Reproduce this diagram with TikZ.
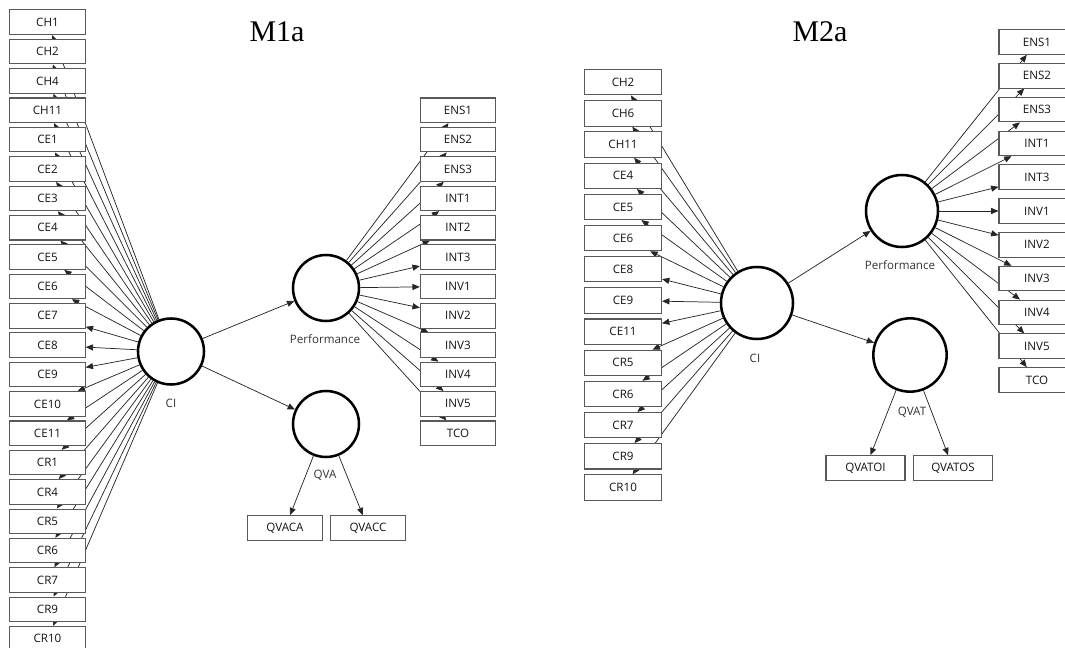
\documentclass[tikz,border=0pt]{standalone}
\usepackage{fontspec}
\setmainfont{Open Sans}
\newfontfamily\titlefont{Liberation Serif}
\usetikzlibrary{arrows.meta}
\pgfdeclarelayer{edges}
\pgfsetlayers{edges,main}
\begin{document}
\begin{tikzpicture}[x=0.75pt,y=-0.75pt,
  ind/.style={draw=black!65, line width=0.8pt, fill=white,
    minimum width=56.5pt, minimum height=18.4pt, inner sep=0pt, outer sep=0.4pt,
    font=\fontsize{8.7}{10}\selectfont, text=black!92},
  lv/.style={circle, draw=black, line width=1.9pt, fill=white,
    inner sep=0pt, outer sep=0.95pt},
  lab/.style={font=\fontsize{8.7}{10}\selectfont, text=black!80},
  link/.style={draw=black!85, line width=0.55pt,
    -{Triangle[length=5.5pt,width=4.6pt]}},
  ttl/.style={font=\titlefont\fontsize{22.5}{26}\selectfont}]
\useasboundingbox (0,0) rectangle (1065,648);

% ---------------- model M1a ----------------
\node[ttl] (t1) at (277,32) {M1a};
\foreach \n [count=\i from 0] in {CH1,CH2,CH4,CH11,CE1,CE2,CE3,CE4,CE5,CE6,CE7,CE8,CE9,CE10,CE11,CR1,CR4,CR5,CR6,CR7,CR9,CR10}
  \node[ind] (a\n) at (47.5,{22.2+29.36*\i}) {\n};
\foreach \n [count=\i from 3] in {ENS1,ENS2,ENS3,INT1,INT2,INT3,INV1,INV2,INV3,INV4,INV5,TCO}
  \node[ind] (aP\n) at (458,{22.2+29.36*\i}) {\n};
\node[lv, minimum size=49.5pt] (aCI) at (171,351.5) {};
\node[lab] (aCIl) at (171,403) {CI};
\node[lv, minimum size=49.5pt] (aPerf) at (326,288) {};
\node[lab] (aPerfl) at (325,339) {Performance};
\node[lv, minimum size=49.5pt] (aQVA) at (326,424) {};
\node[lab] (aQVAl) at (325,475) {QVA};
\node[ind] (aQVACA) at (285,528) {QVACA};
\node[ind] (aQVACC) at (368,528) {QVACC};

% ---------------- model M2a ----------------
\node[ttl] (t2) at (820,32) {M2a};
\foreach \n [count=\i from 0] in {CH2,CH6,CH11,CE4,CE5,CE6,CE8,CE9,CE11,CR5,CR6,CR7,CR9,CR10}
  \node[ind, minimum width=57.75pt, minimum height=19pt] (b\n) at (623,{82.2+31.18*\i}) {\n};
\foreach \n [count=\i from 0] in {ENS1,ENS2,ENS3,INT1,INT3,INV1,INV2,INV3,INV4,INV5,TCO}
  \node[ind, minimum width=57pt] (bP\n) at (1037,{42+33.8*\i}) {\n};
\node[lv, minimum size=54pt] (bCI) at (757,303) {};
\node[lab] (bCIl) at (755,358) {CI};
\node[lv, minimum size=54pt] (bPerf) at (902,211) {};
\node[lab] (bPerfl) at (900,265) {Performance};
\node[lv, minimum size=55pt] (bQVAT) at (910,355) {};
\node[lab] (bQVATl) at (912,412) {QVAT};
\node[ind, minimum width=59.25pt] (bQVATOI) at (865.5,468) {QVATOI};
\node[ind, minimum width=59.25pt] (bQVATOS) at (953,468) {QVATOS};

% ---------------- connectors (behind the boxes) ----------------
\begin{pgfonlayer}{edges}
  \foreach \n in {CH1,CH2,CH4,CH11,CE1,CE2,CE3,CE4,CE5,CE6,CE7,CE8,CE9,CE10,CE11,CR1,CR4,CR5,CR6,CR7,CR9,CR10}
    \draw[link] (aCI) -- (a\n);
  \foreach \n in {ENS1,ENS2,ENS3,INT1,INT2,INT3,INV1,INV2,INV3,INV4,INV5,TCO}
    \draw[link] (aPerf) -- (aP\n);
  \draw[link] (aCI) -- (aPerf);
  \draw[link] (aCI) -- (aQVA);
  \draw[link] (aQVA) -- (aQVACA);
  \draw[link] (aQVA) -- (aQVACC);

  \foreach \n in {CH2,CH6,CH11,CE4,CE5,CE6,CE8,CE9,CE11,CR5,CR6,CR7,CR9,CR10}
    \draw[link] (bCI) -- (b\n);
  \foreach \n in {ENS1,ENS2,ENS3,INT1,INT3,INV1,INV2,INV3,INV4,INV5,TCO}
    \draw[link] (bPerf) -- (bP\n);
  \draw[link] (bCI) -- (bPerf);
  \draw[link] (bCI) -- (bQVAT);
  \draw[link] (bQVAT) -- (bQVATOI);
  \draw[link] (bQVAT) -- (bQVATOS);
\end{pgfonlayer}
\end{tikzpicture}
\end{document}
